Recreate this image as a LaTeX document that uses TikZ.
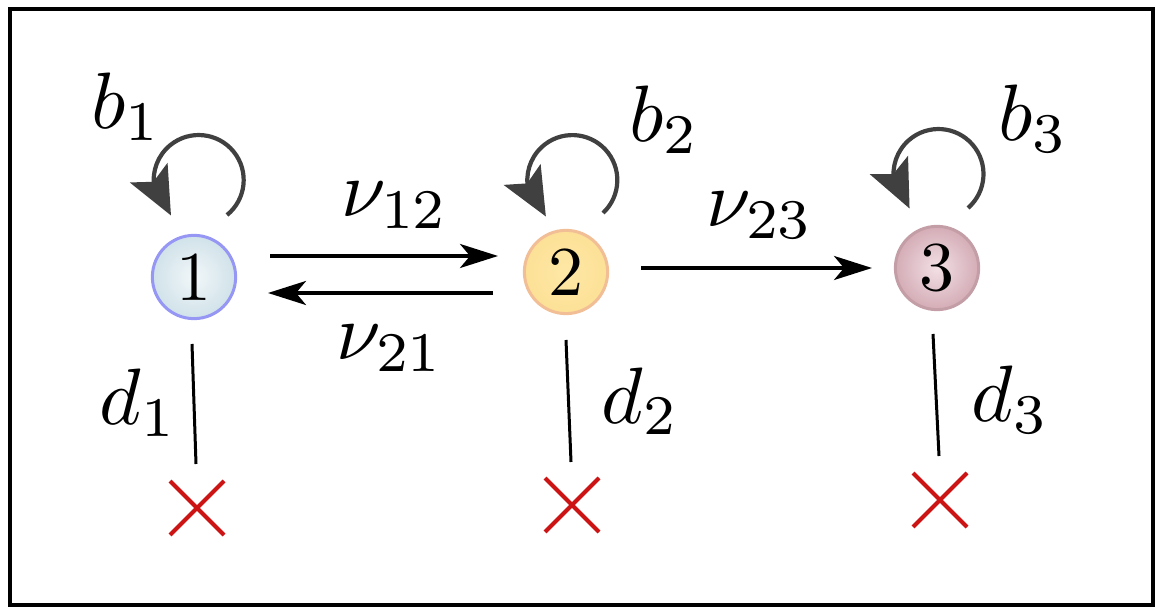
\documentclass[tikz,border=0pt]{standalone}
\usetikzlibrary{arrows.meta,bending,shapes.misc}
\definecolor{loopgray}{RGB}{64,64,64}
\definecolor{xred}{RGB}{204,20,20}
\definecolor{oneborder}{RGB}{150,150,245}
\definecolor{oneinner}{RGB}{242,247,249}
\definecolor{oneouter}{RGB}{208,226,233}
\definecolor{twoborder}{RGB}{242,190,150}
\definecolor{twoinner}{RGB}{254,232,166}
\definecolor{twoouter}{RGB}{252,224,150}
\definecolor{threeborder}{RGB}{196,158,166}
\definecolor{threeinner}{RGB}{242,224,229}
\definecolor{threeouter}{RGB}{212,172,182}
\begin{document}
\begin{tikzpicture}[x=0.5pt,y=-0.5pt,
  state/.style={circle, scale=3.5, minimum size=11.9pt, inner sep=0pt, line width=1.5pt},
  lbl/.style={anchor=base west, inner sep=0pt, scale=4},
  selfloop/.style={draw=loopgray, line width=2.1pt,
    -{Stealth[length=24pt,width=21pt,inset=5pt,flex'=0.8]}},
  flow/.style={draw=black, line width=1.7pt,
    -{Stealth[length=19pt,width=12pt,inset=5pt]}},
  death/.style={draw=black, line width=1.5pt},
  xmark/.style={cross out, draw=xred, line width=2pt, minimum size=25pt, inner sep=0pt},
]
\useasboundingbox (0,0) rectangle (1155,608);
\draw[line width=2pt] (10,9) rectangle (1153,605);

% states
\node[state, draw=oneborder, inner color=oneinner, outer color=oneouter] (n1) at (194,277) {1};
\node[state, draw=twoborder, inner color=twoinner, outer color=twoouter] (n2) at (566,272) {2};
\node[state, draw=threeborder, inner color=threeinner, outer color=threeouter] (n3) at (937,268) {3};

% death marks
\node[xmark] (c1) at (197,508) {};
\node[xmark] (c2) at (572,505) {};
\node[xmark] (c3) at (940,500) {};

% self loops (births)
\draw[selfloop] ([shift={(33,-62)}]n1.center) arc[start angle=51, end angle=-232, radius=45];
\draw[selfloop] ([shift={(37,-59)}]n2.center) arc[start angle=47, end angle=-234, radius=45];
\draw[selfloop] ([shift={(31,-60)}]n3.center) arc[start angle=49, end angle=-230, radius=45];

% migrations
\draw[flow] ([shift={(76,-21)}]n1.center) -- ([shift={(-68,-16)}]n2.center);
\draw[flow] ([shift={(-73,21)}]n2.center) -- ([shift={(74,16)}]n1.center);
\draw[flow] ([shift={(75,-4)}]n2.center) -- ([shift={(-65,0)}]n3.center);

% deaths
\draw[death] ([shift={(-2,67)}]n1.center) -- ([shift={(-1,-44)}]c1.center);
\draw[death] ([shift={(0,68)}]n2.center) -- ([shift={(-1,-43)}]c2.center);
\draw[death] ([shift={(-4,66)}]n3.center) -- ([shift={(-1,-44)}]c3.center);

% labels
\node[lbl] (lb1) at (90,129) {$b_1$};
\node[lbl] (lb2) at (628,142) {$b_2$};
\node[lbl] (lb3) at (997,141) {$b_3$};
\node[lbl] (lv12) at (340,217) {$\nu_{12}$};
\node[lbl] (lv21) at (335,360) {$\nu_{21}$};
\node[lbl] (lv23) at (705,227) {$\nu_{23}$};
\node[lbl] (ld1) at (98,425) {$d_1$};
\node[lbl] (ld2) at (600,423) {$d_2$};
\node[lbl] (ld3) at (970,422) {$d_3$};
\end{tikzpicture}
\end{document}
